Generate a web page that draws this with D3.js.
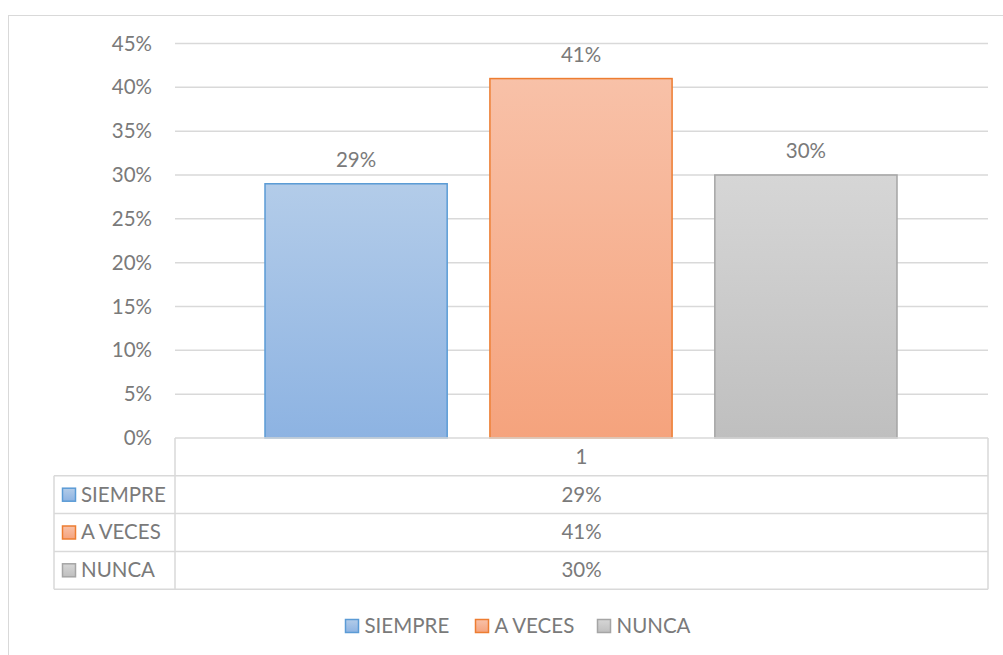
<!DOCTYPE html>
<html>
<head>
<meta charset="utf-8">
<script src="https://cdn.jsdelivr.net/npm/d3@7"></script>
<style>
  body { margin: 0; background: #fff; }
  text { font-family: Lato, "Noto Sans", sans-serif; fill: #7a7a7a; }
</style>
</head>
<body>
<div id="chart"></div>
<script>
// data
const categories = ['SIEMPRE', 'A VECES', 'NUNCA'];
const values = [0.29, 0.41, 0.30];
const tickValues = [0, 0.05, 0.10, 0.15, 0.20, 0.25, 0.30, 0.35, 0.40, 0.45];
const groupLabel = '1';

const fills = [['#b3cce9', '#8db3e2'], ['#f8c1a8', '#f5a37d'], ['#d6d6d6', '#bfbfbf']];
const strokes = ['#5b9bd5', '#ed7d31', '#a5a5a5'];

const W = 1003, H = 655;
const plotLeft = 175, plotRight = 988, plotTop = 43.5, plotBottom = 438;
const tableLeft = 54, rowH = 37.8;
const fontSize = '20.5px';

const svg = d3.select('#chart').append('svg')
    .attr('width', W)
    .attr('height', H);

// gradients
const defs = svg.append('defs');
fills.forEach((f, i) => {
    const g = defs.append('linearGradient')
        .attr('id', 'grad' + i)
        .attr('x1', 0).attr('y1', 0).attr('x2', 0).attr('y2', 1);
    g.append('stop').attr('offset', '0%').attr('stop-color', f[0]);
    g.append('stop').attr('offset', '100%').attr('stop-color', f[1]);
});

// outer border
svg.append('rect')
    .attr('x', 8.5).attr('y', 15.5)
    .attr('width', W + 10).attr('height', H + 10)
    .attr('fill', 'none')
    .attr('stroke', '#d9d9d9')
    .attr('stroke-width', 1);

const y = d3.scaleLinear()
    .domain([0, 0.45])
    .range([plotBottom, plotTop]);

const x = d3.scaleBand()
    .domain(categories)
    .range([plotLeft + 90, plotRight - 91])
    .paddingInner(0.19)
    .paddingOuter(0);

// gridlines
svg.append('g')
    .selectAll('line')
    .data(tickValues.slice(1))
    .enter()
    .append('line')
    .attr('x1', plotLeft).attr('x2', plotRight)
    .attr('y1', d => y(d)).attr('y2', d => y(d))
    .attr('stroke', '#d9d9d9')
    .attr('stroke-width', 1.5);

// y axis labels
const yAxis = svg.append('g')
    .attr('transform', `translate(${plotLeft},0)`)
    .call(d3.axisLeft(y).tickValues(tickValues).tickFormat(d3.format('.0%')).tickSize(0).tickPadding(23));
yAxis.select('.domain').remove();
yAxis.selectAll('text')
    .style('font-family', 'Lato, "Noto Sans", sans-serif')
    .style('font-size', fontSize)
    .attr('fill', '#7a7a7a');

// bars
svg.append('g')
    .selectAll('rect')
    .data(values)
    .enter()
    .append('rect')
    .attr('x', (d, i) => x(categories[i]))
    .attr('y', d => y(d))
    .attr('width', x.bandwidth())
    .attr('height', d => y(0) - y(d))
    .attr('fill', (d, i) => `url(#grad${i})`)
    .attr('stroke', (d, i) => strokes[i])
    .attr('stroke-width', 1.5);

// value labels
svg.append('g')
    .selectAll('text')
    .data(values)
    .enter()
    .append('text')
    .attr('x', (d, i) => x(categories[i]) + x.bandwidth() / 2)
    .attr('y', d => y(d) - 17)
    .attr('text-anchor', 'middle')
    .style('font-size', fontSize)
    .text(d => d3.format('.0%')(d));

// data table
const table = svg.append('g').attr('fill', 'none').attr('stroke', '#d9d9d9').attr('stroke-width', 1.5);
const tableBottom = plotBottom + rowH * (categories.length + 1);
// vertical lines
table.append('line').attr('x1', plotLeft).attr('x2', plotLeft).attr('y1', plotBottom).attr('y2', tableBottom);
table.append('line').attr('x1', plotRight).attr('x2', plotRight).attr('y1', plotBottom).attr('y2', tableBottom);
table.append('line').attr('x1', tableLeft).attr('x2', tableLeft).attr('y1', plotBottom + rowH).attr('y2', tableBottom);
// horizontal lines
table.append('line').attr('x1', plotLeft).attr('x2', plotRight).attr('y1', plotBottom).attr('y2', plotBottom);
d3.range(1, categories.length + 2).forEach(r => {
    table.append('line')
        .attr('x1', tableLeft).attr('x2', plotRight)
        .attr('y1', plotBottom + r * rowH).attr('y2', plotBottom + r * rowH);
});

const midX = (plotLeft + plotRight) / 2;
svg.append('text')
    .attr('x', midX)
    .attr('y', plotBottom + rowH / 2 + 7)
    .attr('text-anchor', 'middle')
    .style('font-size', fontSize)
    .text(groupLabel);

const rows = svg.append('g')
    .selectAll('g')
    .data(categories)
    .enter()
    .append('g')
    .attr('transform', (d, i) => `translate(0, ${plotBottom + (i + 1) * rowH})`);

rows.append('rect')
    .attr('x', 62.5).attr('y', rowH / 2 - 6.5)
    .attr('width', 13).attr('height', 13)
    .attr('fill', (d, i) => `url(#grad${i})`)
    .attr('stroke', (d, i) => strokes[i])
    .attr('stroke-width', 1.5);

rows.append('text')
    .attr('x', 81)
    .attr('y', rowH / 2 + 7)
    .style('font-size', fontSize)
    .text(d => d);

rows.append('text')
    .attr('x', midX)
    .attr('y', rowH / 2 + 7)
    .attr('text-anchor', 'middle')
    .style('font-size', fontSize)
    .text((d, i) => d3.format('.0%')(values[i]));

// legend
const legendX = [345.5, 475.5, 597.5];
const legend = svg.append('g')
    .selectAll('g')
    .data(categories)
    .enter()
    .append('g')
    .attr('transform', (d, i) => `translate(${legendX[i]}, 626)`);

legend.append('rect')
    .attr('x', 0).attr('y', -6.5)
    .attr('width', 13).attr('height', 13)
    .attr('fill', (d, i) => `url(#grad${i})`)
    .attr('stroke', (d, i) => strokes[i])
    .attr('stroke-width', 1.5);

legend.append('text')
    .attr('x', 19)
    .attr('y', 7)
    .style('font-size', fontSize)
    .text(d => d);
</script>
</body>
</html>
